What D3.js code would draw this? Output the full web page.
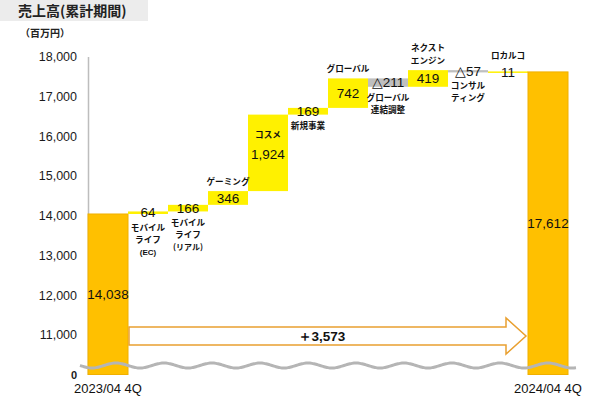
<!DOCTYPE html>
<html><head><meta charset="utf-8">
<script src="https://cdn.jsdelivr.net/npm/d3@7"></script>
<style>body{margin:0;background:#fff}</style>
</head><body><svg id="c" width="600" height="396"></svg>
<script>
// ---- data ----
const titleText = "売上高(累計期間)";
const unitText = "（百万円）";
const categories = ["2023/04 4Q","モバイルライフ(EC)","モバイルライフ(リアル)","ゲーミング","コスメ","新規事業","グローバル","グローバル連結調整","ネクストエンジン","コンサルティング","ロカルコ","2024/04 4Q"];
const categoryLines = [[],["モバイル","ライフ","(EC)"],["モバイル","ライフ","(リアル)"],["ゲーミング"],["コスメ"],["新規事業"],["グローバル"],["グローバル","連結調整"],["ネクスト","エンジン"],["コンサル","ティング"],["ロカルコ"],[]];
const startValue = 14038;
const deltas = [64,166,346,1924,169,742,-211,419,-57,11];
const endValue = 17612;
const totalChange = 3573;
const yTickValues = [10000,11000,12000,13000,14000,15000,16000,17000,18000];
const yTickLabels = ["0","11,000","12,000","13,000","14,000","15,000","16,000","17,000","18,000"];

// ---- build waterfall rows ----
const rows = [];
rows.push({i:0, type:"total", lo:10000, hi:startValue, value:startValue});
let cum = startValue;
deltas.forEach((d,k)=>{
  const a = cum, b = cum + d;
  rows.push({i:k+1, type: d>=0?"up":"down", lo:Math.min(a,b), hi:Math.max(a,b), value:d});
  cum = b;
});
rows.push({i:11, type:"total", lo:10000, hi:endValue, value:endValue});

const svg = d3.select("#c");
const y = d3.scaleLinear().domain([10000,18000]).range([374.5,56.5]);
const x = d3.scaleBand().domain(d3.range(categories.length)).range([88,568]).padding(0);
const jp = "'Noto Sans CJK JP','Noto Sans',sans-serif";
const lat = "'Liberation Sans',Arial,sans-serif";

// title
svg.append("rect").attr("x",0).attr("y",0).attr("width",148).attr("height",21).attr("fill","#ECECEC");
svg.append("text").attr("x",18).attr("y",16).attr("font-family",jp).attr("font-weight","bold")
  .attr("font-size",14).attr("fill","#222").text(titleText);
svg.append("text").attr("x",20).attr("y",37).attr("font-family",jp).attr("font-weight","bold")
  .attr("font-size",10).attr("fill","#222").text(unitText);

// axis
const ax = svg.append("g").attr("transform","translate(88,0)")
  .call(d3.axisLeft(y).tickValues(yTickValues).tickSize(0).tickPadding(11)
    .tickFormat((d,i)=>yTickLabels[i]));
ax.select(".domain").attr("stroke","#BDBDBD").attr("stroke-width",1.5);
ax.selectAll("text").attr("font-family",lat).attr("font-size",12.5).attr("fill","#1a1a1a");
ax.selectAll(".tick").filter(d=>d===10000).select("text").attr("font-weight","bold").attr("font-size",11);

// bars
const fillFor = t => t==="total" ? "#FFC000" : (t==="up" ? "#FFF100" : "#BFBFBF");
svg.append("g").selectAll("rect").data(rows).join("rect")
  .attr("x",d=>x(d.i)).attr("width",x.bandwidth())
  .attr("y",d=>{const h=y(d.lo)-y(d.hi); return h<1.5 ? (y(d.hi)+y(d.lo))/2-0.75 : y(d.hi);})
  .attr("height",d=>Math.max(1.5,y(d.lo)-y(d.hi)))
  .attr("fill",d=>fillFor(d.type))
  .attr("stroke",d=>d.type==="total"?"#F0B000":"none").attr("stroke-width",1);

// value labels
const fmt = d3.format(",");
const valCenter = d => (y(d.lo)+y(d.hi))/2;
svg.append("g").selectAll("text").data(rows).join("text")
  .attr("x",d=>x(d.i)+x.bandwidth()/2).attr("y",d=>valCenter(d)+ (d.i===4?1:0))
  .attr("dy","0.35em").attr("text-anchor","middle")
  .attr("font-family",lat).attr("font-size",13.5).attr("fill","#111")
  .text(d=> d.value<0 ? "△"+fmt(-d.value) : fmt(d.value));

// category labels
const side = {1:"below",2:"below",3:"above",4:"inside",5:"below",6:"above",7:"below",8:"above",9:"below",10:"above"};
const lineH = 12;
rows.forEach(d=>{
  const lines = categoryLines[d.i];
  if(!lines.length) return;
  const cx = x(d.i)+x.bandwidth()/2;
  const vc = valCenter(d);
  let first;
  if(side[d.i]==="below") first = vc + 15;
  else if(side[d.i]==="above") first = Math.min(y(d.hi), vc-7) - 9 - (lines.length-1)*13;
  else first = y(d.hi) + 20;
  lines.forEach((t,k)=>{
    const small = t.startsWith("(");
    svg.append("text").attr("x",cx).attr("y",first + k*(side[d.i]==="above"?13:lineH))
      .attr("dy","0.35em").attr("text-anchor","middle")
      .attr("font-family", small && t==="(EC)" ? lat : jp).attr("font-weight","bold")
      .attr("font-size", small?8:8.6).attr("fill","#111").text(t);
  });
});

// arrow
const ax0 = x(0)+x.bandwidth()+1, tip = x(11)-2, headBase = tip-20, cy = 336;
svg.append("path")
  .attr("d",`M${ax0},${cy-9}L${headBase},${cy-9}L${headBase},${cy-18}L${tip},${cy}L${headBase},${cy+18}L${headBase},${cy+9}L${ax0},${cy+9}Z`)
  .attr("fill","#fff").attr("stroke","#E9A030").attr("stroke-width",1.5);
svg.append("text").attr("x",(ax0+headBase)/2+4).attr("y",cy).attr("dy","0.36em").attr("text-anchor","middle")
  .attr("font-family",lat).attr("font-weight","bold").attr("font-size",13.5).attr("fill","#111")
  .text("＋"+fmt(totalChange));

// wave (axis break)
const wpts = d3.range(80,578,2).map(px=>[px, 365.5 + 2.5*Math.sin(2*Math.PI*(px-80)/48)]);
svg.append("path").attr("d",d3.line().curve(d3.curveBasis)(wpts))
  .attr("fill","none").attr("stroke","#B5B5B5").attr("stroke-width",3);

// x labels
[0,11].forEach(i=>{
  svg.append("text").attr("x",x(i)+x.bandwidth()/2).attr("y",393).attr("text-anchor","middle")
    .attr("font-family",lat).attr("font-size",13).attr("fill","#111").text(categories[i]);
});
</script></body></html>
